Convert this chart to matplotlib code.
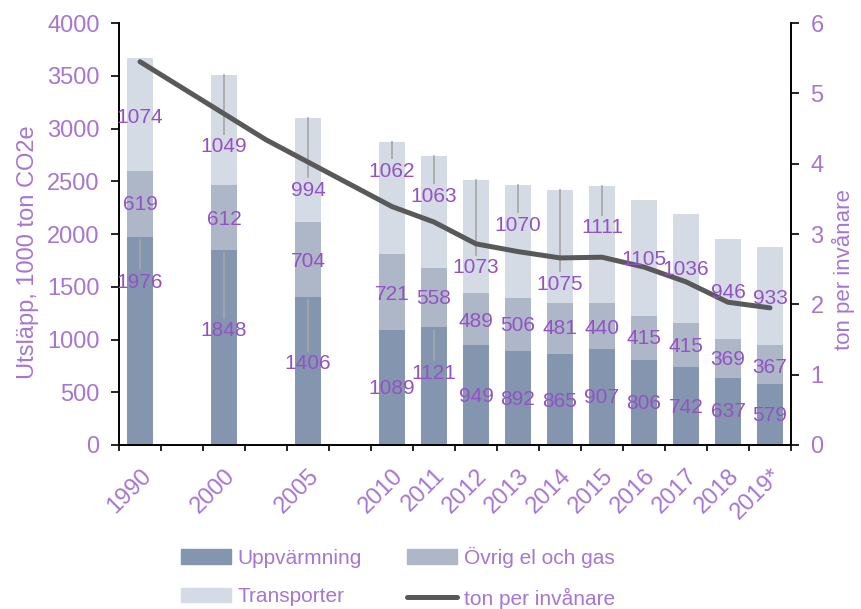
import matplotlib.pyplot as plt
from matplotlib.patches import Patch
from matplotlib.lines import Line2D
import numpy as np

plt.rcParams['font.family'] = ['Liberation Sans', 'DejaVu Sans']

# data
years = ['1990', '2000', '2005', '2010', '2011', '2012', '2013', '2014',
         '2015', '2016', '2017', '2018', '2019*']
slots = [0, 2, 4, 6, 7, 8, 9, 10, 11, 12, 13, 14, 15]
uppvarmning = [1976, 1848, 1406, 1089, 1121, 949, 892, 865, 907, 806, 742, 637, 579]
ovrig = [619, 612, 704, 721, 558, 489, 506, 481, 440, 415, 415, 369, 367]
transporter = [1074, 1049, 994, 1062, 1063, 1073, 1070, 1075, 1111, 1105, 1036, 946, 933]
# ton per invanare, line points (slot, value)
line_slots = [0, 3, 6, 7, 8, 9, 10, 11, 12, 13, 14, 15]
per_capita = [5.45, 4.34, 3.39, 3.17, 2.86, 2.75, 2.66, 2.67, 2.53, 2.32, 2.03, 1.95]

# label placement (left-axis units) and leader flags
upp_lab_y = [1545, 1081, 768, 540, 682, 464, 436, 417, 446, 398, 360, 313, 284]
ovr_lab_y = [2275, 2133, 1735, 1431, 1393, 1175, 1128, 1100, 1109, 1005, 929, 806, 739]
tra_lab_y = [3109, 2825, 2417, 2597, 2360, 1678, 2085, 1526, 2057, 1754, 1659, 1450, 1393]
upp_leader = [1, 1, 1, 0, 1, 0, 0, 0, 0, 0, 0, 0, 0]
tra_leader = [0, 1, 1, 1, 1, 1, 1, 1, 1, 0, 0, 0, 0]

c_upp = '#8496af'
c_ovr = '#adb7c8'
c_tra = '#d5dbe5'
c_line = '#595959'
c_lab = '#9352c4'
c_tick = '#a676d0'
c_lead = '#a6a6a6'
fs_lab = 15
fs_ax = 17

fig = plt.figure(figsize=(8.61, 6.09), dpi=100)
ax = fig.add_axes([0.1382, 0.2693, 0.7805, 0.6929])
ax2 = ax.twinx()

x = np.array(slots)
upp = np.array(uppvarmning)
ovr = np.array(ovrig)
tra = np.array(transporter)
w = 0.6
ax.bar(x, upp, w, color=c_upp)
ax.bar(x, ovr, w, bottom=upp, color=c_ovr)
ax.bar(x, tra, w, bottom=upp + ovr, color=c_tra)

ax.set_ylim(0, 4000)
ax.set_yticks(np.arange(0, 4001, 500))
ax.set_xlim(-0.5, 15.5)
ax.set_xticks(np.arange(-0.5, 15.6, 1))
ax.set_xticklabels([])
ax.set_xticks(x, minor=True)
ax.set_xticklabels(years, minor=True, rotation=45, ha='right',
                   rotation_mode='anchor', color=c_tick, fontsize=fs_ax)
ax.tick_params(axis='x', which='minor', length=0, pad=14)
ax.tick_params(axis='x', which='major', length=4.5, width=1.2, direction='out')
ax.tick_params(axis='y', length=6, width=1.2, pad=8, labelcolor=c_tick, labelsize=fs_ax)
ax.set_ylabel('Utsläpp, 1000 ton CO2e', color=c_tick, fontsize=fs_ax, labelpad=6)
ax.yaxis.label.set_y(0.457)

ax2.set_ylim(0, 6)
ax2.set_yticks(range(0, 7))
ax2.tick_params(axis='y', length=6, width=1.2, pad=8, labelcolor=c_tick, labelsize=fs_ax)
ax2.set_ylabel('ton per invånare', color=c_tick, fontsize=16, labelpad=6)
ax2.yaxis.label.set_y(0.415)

for a in (ax, ax2):
    a.spines['top'].set_visible(False)
    for s in ('left', 'right', 'bottom'):
        a.spines[s].set_linewidth(1.2)

ax2.plot(line_slots, per_capita, color=c_line, lw=3.6,
         solid_capstyle='round', solid_joinstyle='round', zorder=3)

# labels on ax2 (drawn above the line) but in left-axis data units
tr = ax.transData
lead_off = 125
for i in range(len(x)):
    for val, ly in ((upp[i], upp_lab_y[i]), (ovr[i], ovr_lab_y[i]), (tra[i], tra_lab_y[i])):
        ax2.text(x[i], ly, str(val), ha='center', va='center', color=c_lab,
                 fontsize=fs_lab, zorder=5, transform=tr)
    if upp_leader[i]:
        ax2.plot([x[i], x[i]], [upp[i] - 30, upp_lab_y[i] + lead_off],
                 color=c_lead, lw=1.2, zorder=2, transform=tr)
    if tra_leader[i]:
        top = upp[i] + ovr[i] + tra[i]
        ax2.plot([x[i], x[i]], [top, tra_lab_y[i] + lead_off],
                 color=c_lead, lw=1.2, zorder=2, transform=tr)

handles = [Patch(color=c_upp), Patch(color=c_tra), Patch(color=c_ovr),
           Line2D([], [], color=c_line, lw=3.6, solid_capstyle='round')]
labels = ['Uppvärmning', 'Transporter', 'Övrig el och gas', 'ton per invånare']
leg = fig.legend(handles, labels, ncol=2, loc='lower center',
                 bbox_to_anchor=(0.462, -0.03), frameon=False, fontsize=fs_lab,
                 handlelength=2.4, handleheight=0.7, columnspacing=2.2,
                 handletextpad=0.3, labelspacing=0.95)
for t in leg.get_texts():
    t.set_color(c_tick)

fig.savefig('out.png', dpi=100)
